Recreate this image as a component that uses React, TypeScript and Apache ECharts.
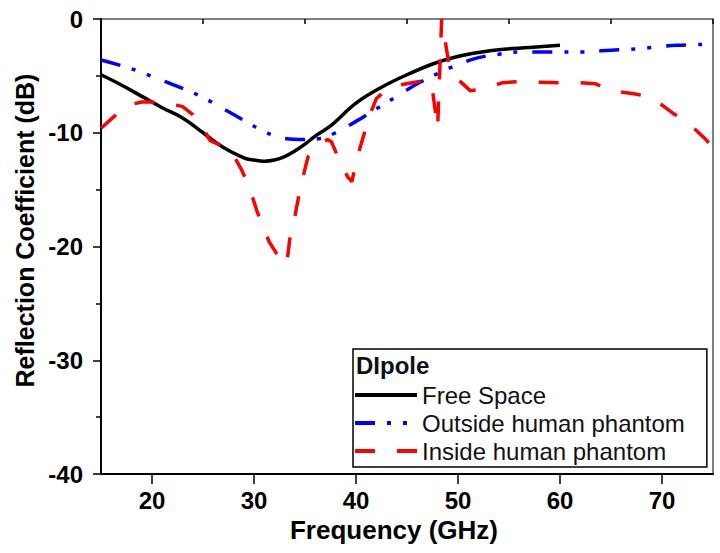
import React, { useEffect, useRef } from 'react';
import * as echarts from 'echarts';

// ---- Data ----
const freeSpaceFreq = [15, 17, 19, 21, 23, 25, 27, 29, 30, 31, 32, 33, 34, 35, 36, 37.5, 40, 42.5, 45, 48, 51, 54, 57, 60];
const freeSpaceS11 = [-4.9, -5.8, -6.8, -7.8, -8.7, -10.0, -11.3, -12.2, -12.4, -12.5, -12.4, -12.1, -11.6, -11.0, -10.3, -9.4, -7.4, -6.0, -4.9, -3.8, -3.1, -2.7, -2.5, -2.3];

const outsideFreq = [15, 17, 19, 21, 23, 25, 27, 29, 31, 33, 35, 36.5, 38, 40, 42, 44, 46, 48, 50, 52, 54, 56, 58, 60, 62, 64, 66, 68, 70, 72, 75];
const outsideS11 = [-3.6, -4.1, -4.7, -5.4, -6.1, -6.9, -7.9, -8.9, -9.9, -10.5, -10.6, -10.5, -10.0, -9.0, -7.9, -6.8, -5.7, -4.8, -4.0, -3.4, -3.1, -2.9, -2.9, -2.9, -2.9, -2.8, -2.7, -2.6, -2.4, -2.3, -2.2];

const insideFreq = [15, 16, 17, 18, 19, 20, 21, 22, 23, 24, 25, 25.7, 26.5, 27.3, 28, 28.7, 29.5, 30.3, 30.8, 31.5, 32.2, 32.8, 33.2, 33.5, 34, 34.4, 34.8, 35.3, 36.2, 37.2, 37.6, 38.4, 39.2, 39.6, 40.1, 40.7, 41.4, 42, 43, 44.3, 45.5, 46.8, 47.4, 48.0, 48.4, 49.1, 50.1, 51.2, 52.2, 53.3, 54.4, 56, 58, 60, 62, 63.5, 65, 67.4, 68.5, 69.3, 70.2, 71.1, 72, 73, 74.3, 75];
const insideS11 = [-9.6, -8.8, -8.0, -7.5, -7.3, -7.3, -7.45, -7.5, -7.7, -8.4, -9.6, -10.7, -11.0, -11.2, -12.0, -13.1, -14.7, -16.9, -18.1, -19.6, -20.6, -21.3, -21.6, -19.4, -17.4, -15.5, -13.9, -12.1, -11.2, -10.6, -10.8, -12.5, -13.9, -14.3, -12.2, -10.4, -8.3, -7.0, -6.2, -5.8, -5.6, -5.4, -5.6, -9.6, 0, -3.9, -5.4, -6.3, -6.2, -5.9, -5.6, -5.5, -5.55, -5.6, -5.6, -5.7, -6.3, -6.6, -6.8, -7.1, -7.7, -8.3, -8.8, -9.5, -10.6, -11.3];

const seriesNames = ['Free Space', 'Outside human phantom', 'Inside human phantom'];
const legendTitle = 'DIpole';
const xMajorTicks = [20, 30, 40, 50, 60, 70];
const xMinorTicks = [15, 25, 35, 45, 55, 65, 75];
const yTickLabels = ['-40', '-30', '-20', '-10', '0'];

const FONT = '"Liberation Sans", Arial, sans-serif';

const zip = (xs: number[], ys: number[]) => xs.map((x, i) => [x, ys[i]]);

export default function App() {
  const ref = useRef<HTMLDivElement>(null);

  useEffect(() => {
    if (!ref.current) return;
    const chart = echarts.init(ref.current, null, { renderer: 'svg' });

    const option: any = {
      animation: false,
      backgroundColor: '#ffffff',
      grid: {
        left: 101,
        right: 7,
        top: 19,
        bottom: 79,
        show: true,
        borderColor: '#555555',
        borderWidth: 1.5,
        backgroundColor: 'transparent',
      },
      xAxis: [
        {
          type: 'value',
          min: 15,
          max: 75,
          position: 'bottom',
          name: 'Frequency (GHz)',
          nameLocation: 'middle',
          nameGap: 43,
          nameTextStyle: {
            fontSize: 26,
            fontWeight: 'bold',
            color: '#000',
            fontFamily: FONT,
            padding: [0, 26, 0, 0],
          },
          axisLine: { show: true, onZero: false, lineStyle: { color: '#000', width: 2 } },
          axisTick: { show: true, customValues: xMajorTicks, length: 10, lineStyle: { color: '#000', width: 1.5 } },
          axisLabel: {
            customValues: xMajorTicks,
            margin: 14,
            fontSize: 24,
            fontWeight: 'bold',
            color: '#000',
            fontFamily: FONT,
          },
          splitLine: { show: false },
        },
        {
          type: 'value',
          min: 15,
          max: 75,
          position: 'bottom',
          axisLine: { show: false },
          axisTick: { show: true, customValues: xMinorTicks, length: 5, lineStyle: { color: '#000', width: 1.5 } },
          axisLabel: { show: false },
          splitLine: { show: false },
        },
      ],
      yAxis: {
        type: 'value',
        min: -40,
        max: 0,
        interval: 10,
        name: 'Reflection Coefficient (dB)',
        nameLocation: 'middle',
        nameGap: 60,
        nameRotate: 90,
        nameTextStyle: {
          fontSize: 25,
          fontWeight: 'bold',
          color: '#000',
          fontFamily: FONT,
          padding: [0, 0, 0, 32],
        },
        axisLine: { show: true, onZero: false, lineStyle: { color: '#000', width: 2 } },
        axisTick: { show: true, length: 8, lineStyle: { color: '#000', width: 1.5 } },
        minorTick: { show: true, splitNumber: 2, length: 5, lineStyle: { color: '#000', width: 1.5 } },
        axisLabel: {
          margin: 18,
          fontSize: 24,
          fontWeight: 'bold',
          color: '#000',
          fontFamily: FONT,
          formatter: (v: number) => {
            const idx = Math.round((v + 40) / 10);
            return yTickLabels[idx] ?? String(v);
          },
        },
        splitLine: { show: false },
      },
      legend: {
        orient: 'vertical',
        left: 353,
        top: 349,
        padding: [34, 22, 4, 0],
        itemGap: 4,
        itemWidth: 62,
        itemHeight: 14,
        borderColor: '#000',
        borderWidth: 1.5,
        borderRadius: 0,
        backgroundColor: '#ffffff',
        itemStyle: { color: 'transparent', borderWidth: 0, opacity: 0 },
        lineStyle: { width: 4 },
        textStyle: { fontSize: 24, color: '#111', fontFamily: FONT },
        data: seriesNames,
      },
      graphic: [
        {
          type: 'text',
          left: 356,
          top: 353,
          z: 100,
          style: {
            text: legendTitle,
            fontSize: 24,
            fontWeight: 'bold',
            fill: '#111',
            fontFamily: FONT,
          },
        },
      ],
      series: [
        {
          name: seriesNames[0],
          type: 'line',
          xAxisIndex: 0,
          data: zip(freeSpaceFreq, freeSpaceS11),
          symbol: 'none',
          smooth: 0.4,
          lineStyle: { color: '#000000', width: 3.5, type: 'solid' },
          itemStyle: { color: '#000000' },
        },
        {
          name: seriesNames[1],
          type: 'line',
          xAxisIndex: 0,
          data: zip(outsideFreq, outsideS11),
          symbol: 'none',
          smooth: 0.4,
          lineStyle: { color: '#0000ff', width: 3.5, type: [20, 12, 4, 12, 4, 15], cap: 'butt' },
          itemStyle: { color: '#0000ff' },
        },
        {
          name: seriesNames[2],
          type: 'line',
          xAxisIndex: 0,
          data: zip(insideFreq, insideS11),
          symbol: 'none',
          smooth: false,
          lineStyle: { color: '#ff0000', width: 3.5, type: [20, 22], cap: 'butt' },
          itemStyle: { color: '#ff0000' },
        },
      ],
    };

    chart.setOption(option);
    return () => chart.dispose();
  }, []);

  return (
    <div
      ref={ref}
      style={{ position: 'fixed', left: 0, top: 0, width: 720, height: 553, background: '#fff' }}
    />
  );
}
